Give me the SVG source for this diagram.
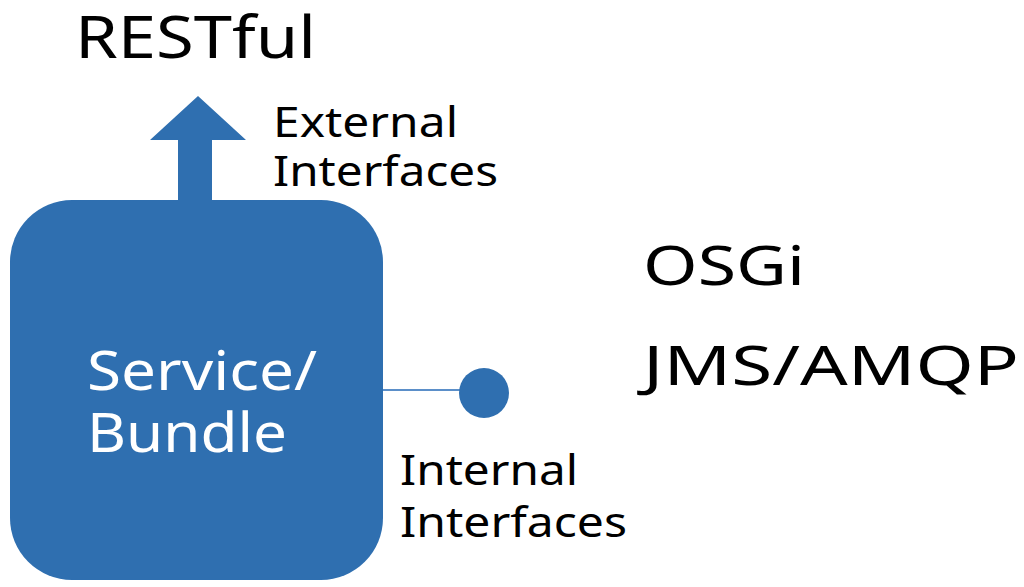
<svg xmlns="http://www.w3.org/2000/svg" width="1024" height="587" viewBox="0 0 1024 587">
<style>
.t{font-family:"Noto Sans","Liberation Sans",sans-serif;fill:#000}
.w{font-family:"Noto Sans","Liberation Sans",sans-serif;fill:#fff}
.b{fill:#2F6FB0}
</style>
<rect width="1024" height="587" fill="#fff"/>
<g id="connectors">
<polygon class="b" points="178,202 178,140 150,140 198,96 246,140 212,140 212,202"/>
<line x1="383" y1="390" x2="462" y2="390" stroke="#5B8FC9" stroke-width="2"/>
</g>
<g id="service">
<rect class="b" x="10" y="200" width="373" height="380" rx="62"/>
<text class="w" x="87" y="390" font-size="54" textLength="230" lengthAdjust="spacingAndGlyphs">Service/</text>
<text class="w" x="87" y="452" font-size="54" textLength="200" lengthAdjust="spacingAndGlyphs">Bundle</text>
</g>
<g id="internal">
<circle class="b" cx="484" cy="393" r="25"/>
</g>
<g id="labels">
<text class="t" x="75" y="58" font-size="58" textLength="241" lengthAdjust="spacingAndGlyphs">RESTful</text>
<text class="t" x="273" y="137" font-size="42" textLength="185" lengthAdjust="spacingAndGlyphs">External</text>
<text class="t" x="273" y="186" font-size="42" textLength="225" lengthAdjust="spacingAndGlyphs">Interfaces</text>
<text class="t" x="643" y="285" font-size="55" textLength="162" lengthAdjust="spacingAndGlyphs">OSGi</text>
<text class="t" x="643" y="385" font-size="55" textLength="376" lengthAdjust="spacingAndGlyphs">JMS/AMQP</text>
<text class="t" x="400" y="485" font-size="42" textLength="178" lengthAdjust="spacingAndGlyphs">Internal</text>
<text class="t" x="400" y="537" font-size="42" textLength="227" lengthAdjust="spacingAndGlyphs">Interfaces</text>
</g>
</svg>
